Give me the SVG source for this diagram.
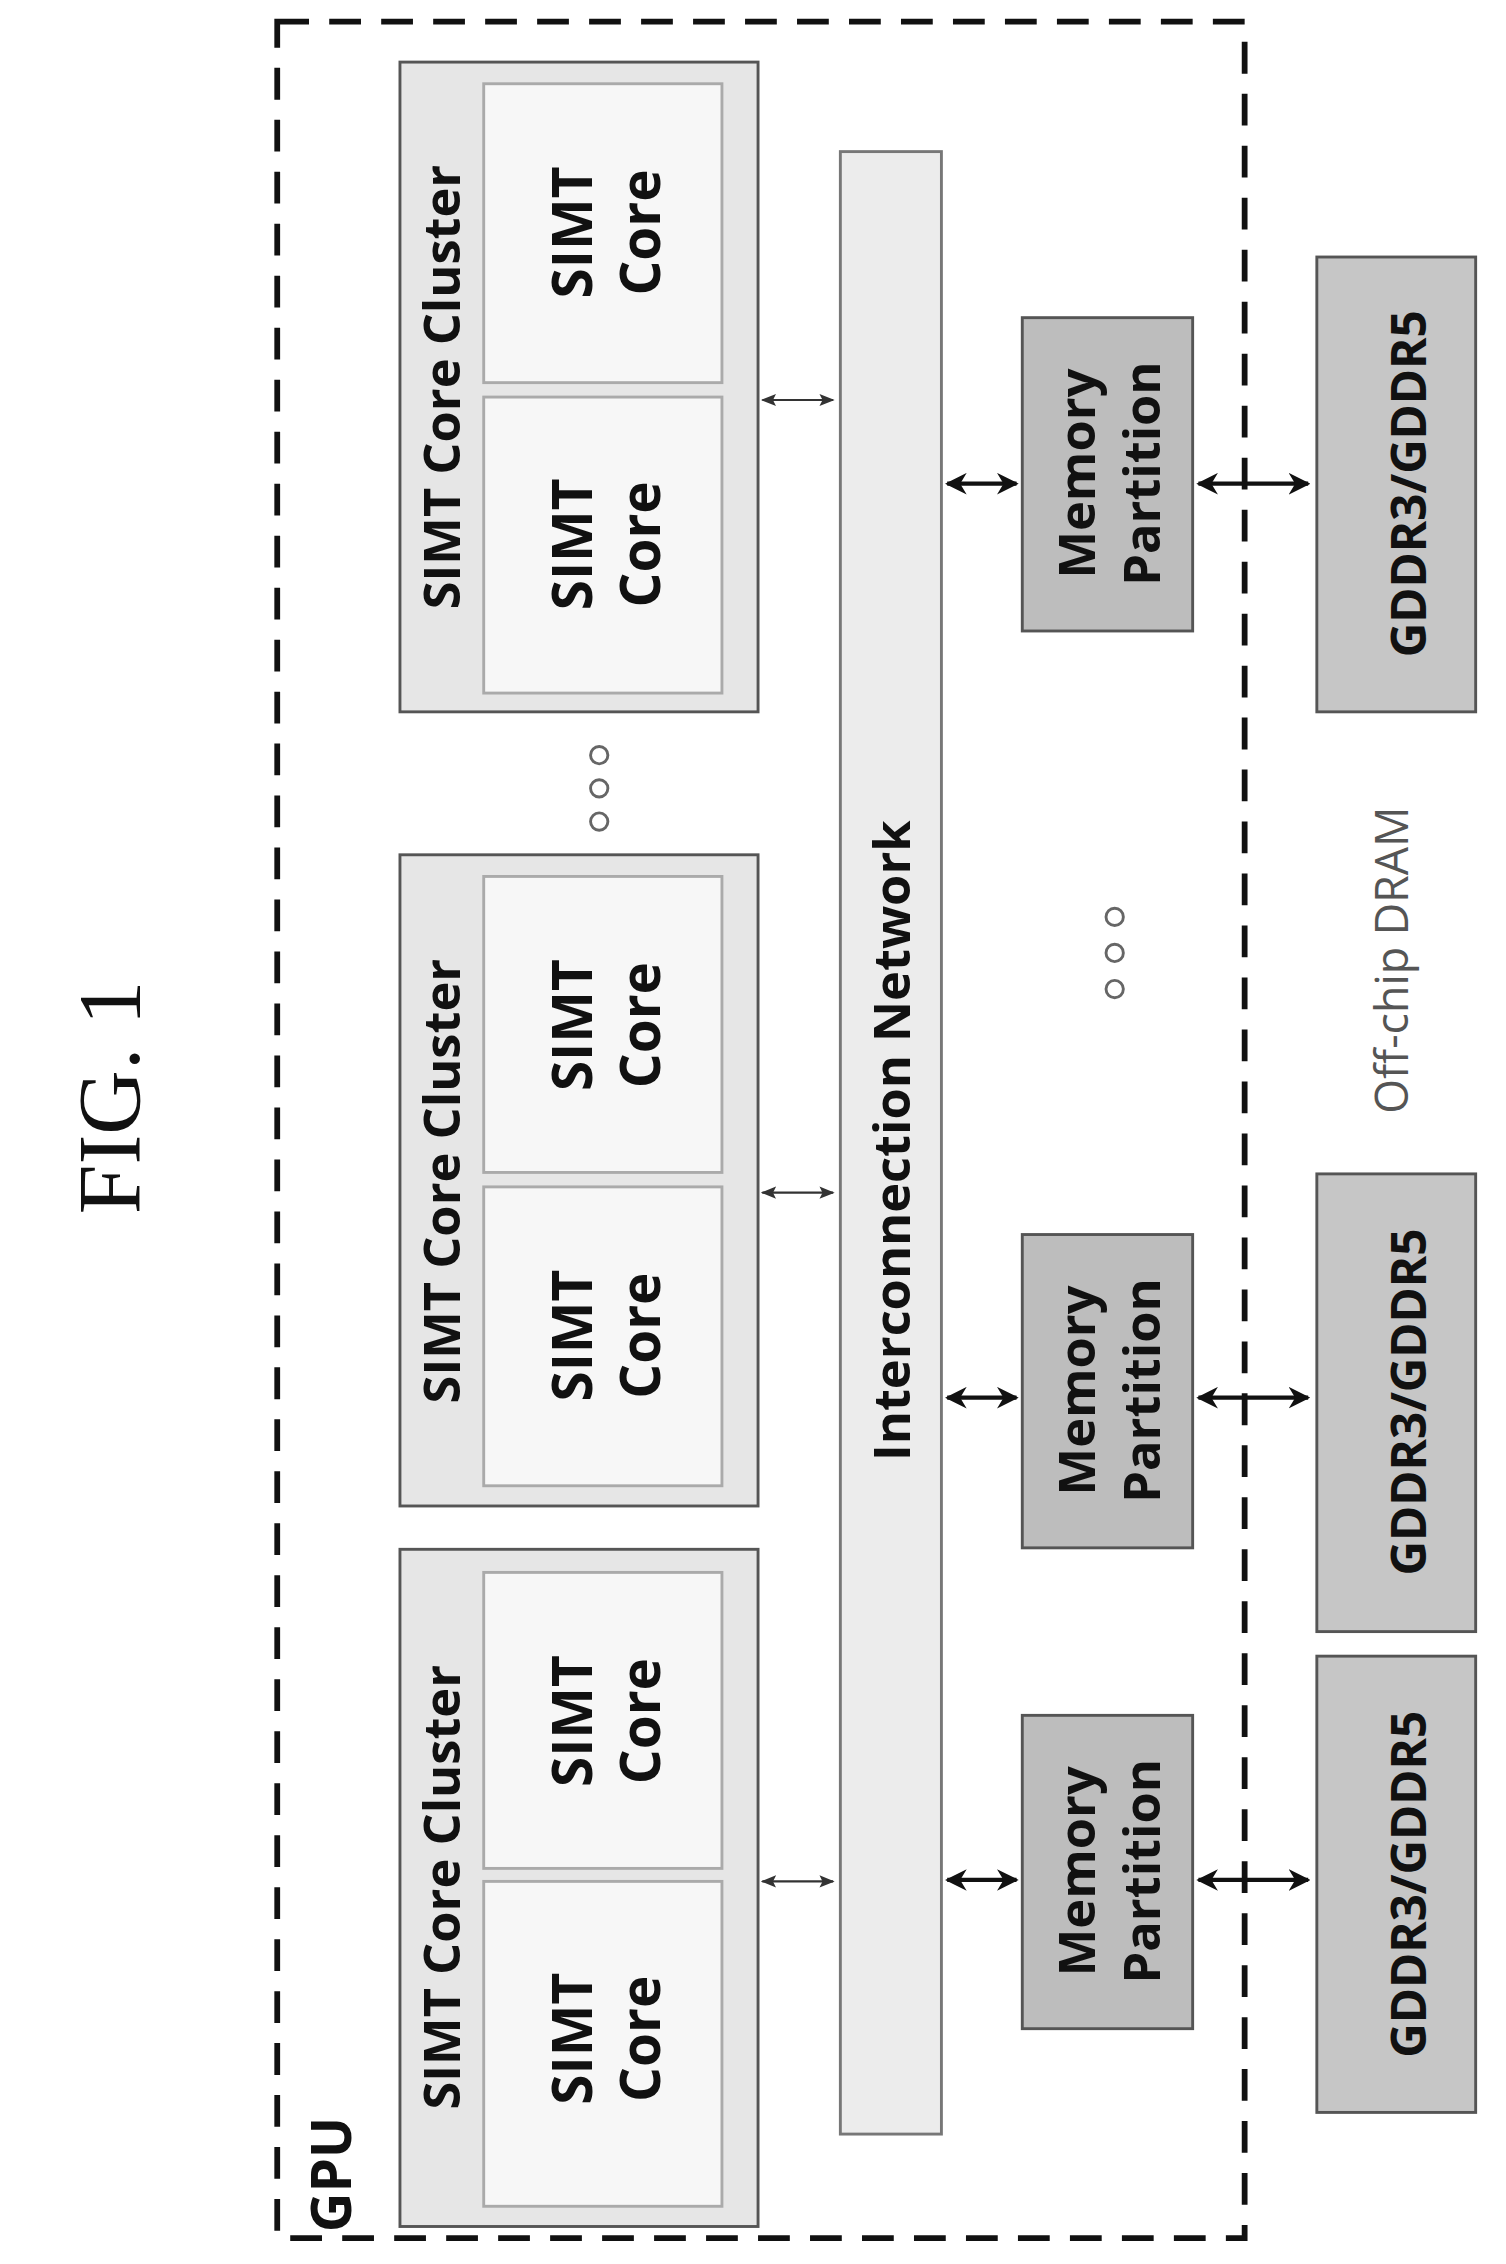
<svg xmlns="http://www.w3.org/2000/svg" width="1506" height="2264" viewBox="0 0 1506 2264">
<defs>
<marker id="ah" viewBox="0 0 10 10" refX="9" refY="5" markerWidth="5" markerHeight="5" orient="auto-start-reverse"><path d="M0,0 L10,5 L0,10 L3,5 z" fill="#111"/></marker>
<marker id="ahs" viewBox="0 0 10 10" refX="9" refY="5" markerWidth="7" markerHeight="7" orient="auto-start-reverse"><path d="M0,1 L10,5 L0,9 L2,5 z" fill="#333"/></marker>
</defs>
<style>
.t{font-family:"Open Sans","Liberation Sans",sans-serif;font-weight:bold;fill:#111;text-anchor:middle;dominant-baseline:central}
.cl{fill:#e6e6e6;stroke:#555;stroke-width:2}
.co{fill:#f7f7f7;stroke:#aaa;stroke-width:2}
.mp{fill:#bdbdbd;stroke:#555;stroke-width:2}
.gd{fill:#c6c6c6;stroke:#555;stroke-width:2}
.a1{stroke:#333;stroke-width:1.5;marker-start:url(#ahs);marker-end:url(#ahs)}
.a2{stroke:#111;stroke-width:3;marker-start:url(#ah);marker-end:url(#ah)}
</style>
<rect width="1506" height="2264" fill="#fff"/>
<g transform="scale(1.4439)">
<text transform="translate(75,760) rotate(-90)" style="font-family:'Liberation Serif',serif;font-size:62px;text-anchor:middle;dominant-baseline:central;fill:#111">FIG. 1</text>
<g id="gpu">
<rect x="192" y="15" width="670" height="1535" fill="none" stroke="#111" stroke-width="4" stroke-dasharray="22,14"/>
<text class="t" transform="translate(228,1506) rotate(-90)" style="font-size:38px">GPU</text>
</g>
<g id="cluster1">
<rect class="cl" x="277" y="1073" width="248" height="469"/>
<rect class="co" x="335" y="1089" width="165" height="205"/>
<rect class="co" x="335" y="1303" width="165" height="225"/>
<text class="t" transform="translate(305,1307) rotate(-90)" style="font-size:35px">SIMT Core Cluster</text>
<text class="t" transform="translate(395,1192) rotate(-90)" style="font-size:38px">SIMT</text>
<text class="t" transform="translate(442,1192) rotate(-90)" style="font-size:38px">Core</text>
<text class="t" transform="translate(395,1412) rotate(-90)" style="font-size:38px">SIMT</text>
<text class="t" transform="translate(442,1412) rotate(-90)" style="font-size:38px">Core</text>
</g>
<g id="cluster2">
<rect class="cl" x="277" y="592" width="248" height="451"/>
<rect class="co" x="335" y="607" width="165" height="205"/>
<rect class="co" x="335" y="822" width="165" height="207"/>
<text class="t" transform="translate(305,818) rotate(-90)" style="font-size:35px">SIMT Core Cluster</text>
<text class="t" transform="translate(395,710) rotate(-90)" style="font-size:38px">SIMT</text>
<text class="t" transform="translate(442,710) rotate(-90)" style="font-size:38px">Core</text>
<text class="t" transform="translate(395,925) rotate(-90)" style="font-size:38px">SIMT</text>
<text class="t" transform="translate(442,925) rotate(-90)" style="font-size:38px">Core</text>
</g>
<g id="cluster3">
<rect class="cl" x="277" y="43" width="248" height="450"/>
<rect class="co" x="335" y="58" width="165" height="207"/>
<rect class="co" x="335" y="275" width="165" height="205"/>
<text class="t" transform="translate(305,268) rotate(-90)" style="font-size:35px">SIMT Core Cluster</text>
<text class="t" transform="translate(395,161) rotate(-90)" style="font-size:38px">SIMT</text>
<text class="t" transform="translate(442,161) rotate(-90)" style="font-size:38px">Core</text>
<text class="t" transform="translate(395,377) rotate(-90)" style="font-size:38px">SIMT</text>
<text class="t" transform="translate(442,377) rotate(-90)" style="font-size:38px">Core</text>
</g>
<g id="dots1" fill="none" stroke="#666" stroke-width="2"><circle cx="415" cy="523" r="6"/><circle cx="415" cy="546" r="6"/><circle cx="415" cy="569" r="6"/></g>
<g id="interconnect">
<rect x="582" y="105" width="70" height="1373" fill="#ececec" stroke="#777" stroke-width="2"/>
<text class="t" transform="translate(617,790) rotate(-90)" style="font-size:35px">Interconnection Network</text>
</g>
<g id="mp1"><rect class="mp" x="708" y="220" width="118" height="217"/>
<text class="t" transform="translate(745,328) rotate(-90)" style="font-size:35px">Memory</text>
<text class="t" transform="translate(790,328) rotate(-90)" style="font-size:35px">Partition</text></g>
<g id="mp2"><rect class="mp" x="708" y="855" width="118" height="217"/>
<text class="t" transform="translate(745,963) rotate(-90)" style="font-size:35px">Memory</text>
<text class="t" transform="translate(790,963) rotate(-90)" style="font-size:35px">Partition</text></g>
<g id="mp3"><rect class="mp" x="708" y="1188" width="118" height="217"/>
<text class="t" transform="translate(745,1296) rotate(-90)" style="font-size:35px">Memory</text>
<text class="t" transform="translate(790,1296) rotate(-90)" style="font-size:35px">Partition</text></g>
<g id="dots2" fill="none" stroke="#666" stroke-width="2"><circle cx="772" cy="635" r="6"/><circle cx="772" cy="660" r="6"/><circle cx="772" cy="685" r="6"/></g>
<g id="gddr1"><rect class="gd" x="912" y="178" width="110" height="315"/>
<text class="t" transform="translate(975,335) rotate(-90)" style="font-size:33px">GDDR3/GDDR5</text></g>
<g id="gddr2"><rect class="gd" x="912" y="813" width="110" height="317"/>
<text class="t" transform="translate(975,971) rotate(-90)" style="font-size:33px">GDDR3/GDDR5</text></g>
<g id="gddr3"><rect class="gd" x="912" y="1147" width="110" height="316"/>
<text class="t" transform="translate(975,1305) rotate(-90)" style="font-size:33px">GDDR3/GDDR5</text></g>
<text transform="translate(963,665) rotate(-90)" style="font-family:'Open Sans','Liberation Sans',sans-serif;font-size:31px;fill:#555;text-anchor:middle;dominant-baseline:central">Off-chip DRAM</text>
<g id="connectors">
<line class="a1" x1="528" y1="277" x2="577" y2="277"/>
<line class="a1" x1="528" y1="826" x2="577" y2="826"/>
<line class="a1" x1="528" y1="1303" x2="577" y2="1303"/>
<line class="a2" x1="656" y1="335" x2="704" y2="335"/>
<line class="a2" x1="656" y1="968" x2="704" y2="968"/>
<line class="a2" x1="656" y1="1302" x2="704" y2="1302"/>
<line class="a2" x1="830" y1="335" x2="906" y2="335"/>
<line class="a2" x1="830" y1="968" x2="906" y2="968"/>
<line class="a2" x1="830" y1="1302" x2="906" y2="1302"/>
</g>
</g>
</svg>
